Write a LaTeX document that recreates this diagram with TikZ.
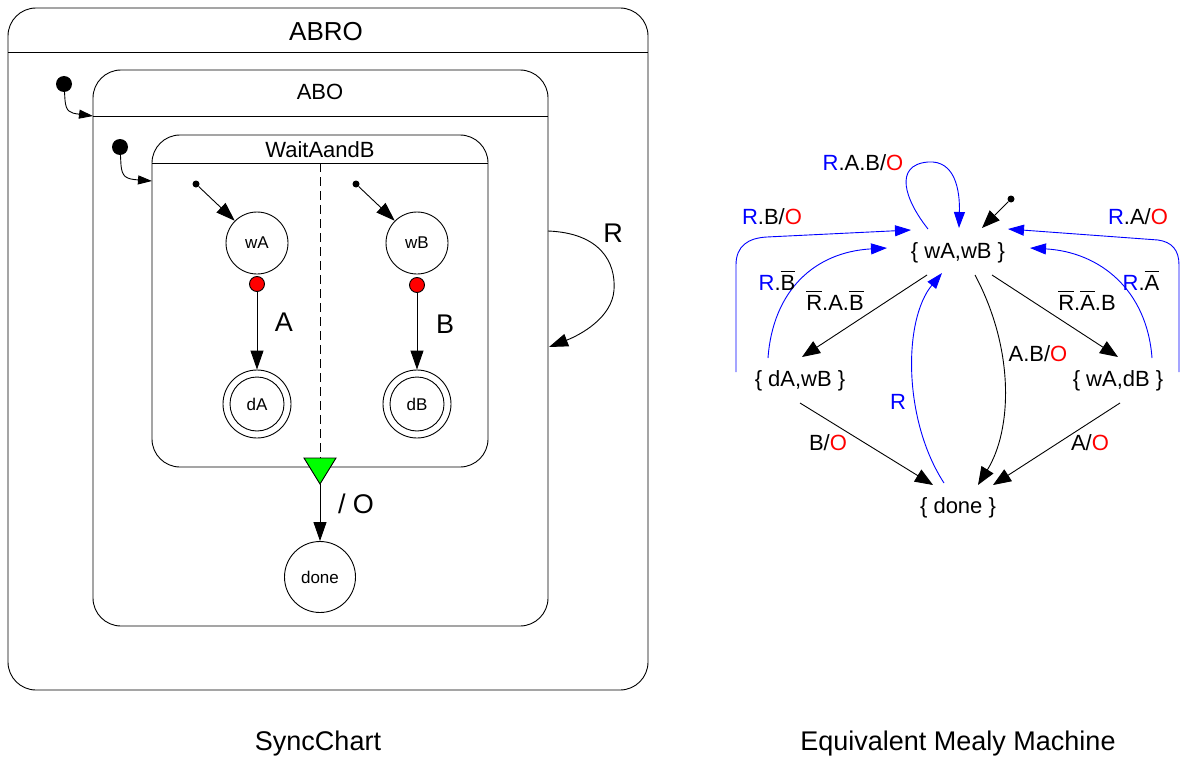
\documentclass[tikz,border=0pt]{standalone}
\usepackage{fontspec}
\setmainfont{Liberation Sans}
\usetikzlibrary{arrows.meta,calc}
\newcommand\fsz[1]{\fontsize{#1}{#1}\selectfont}
\newsavebox\ovlbox
\newcommand\ovl[1]{\sbox\ovlbox{#1}\rlap{\raisebox{\dimexpr\ht\ovlbox+3.5pt\relax}{\rule{\wd\ovlbox}{1pt}}}\usebox\ovlbox}
\newcommand\bR{\textcolor{blue}{R}}
\newcommand\rO{\textcolor{red}{O}}
\begin{document}
\begin{tikzpicture}[x=1pt,y=-1pt,
  ln/.style={line width=0.9pt},
  box/.style={ln,rounded corners=28pt},
  karrL/.style={ln,-{Triangle[length=19pt,width=13pt]}},
  karrS/.style={ln,-{Triangle[length=14pt,width=9pt]}},
  barr/.style={ln,blue,-{Triangle[length=16pt,width=11pt]}},
  marr/.style={ln,-{Triangle[length=18pt,width=14pt]}},
  lab/.style={font=\fsz{22},inner sep=1pt},
  big/.style={font=\fsz{27},inner sep=1pt},
  st/.style={circle,draw,ln,minimum size=62pt,inner sep=0pt,font=\fsz{17}},
  fst/.style={circle,draw,ln,minimum size=68pt,inner sep=0pt,font=\fsz{17}},
  initdot/.style={circle,fill=black,minimum size=16pt,inner sep=0pt},
  smalldot/.style={circle,fill=black,minimum size=7pt,inner sep=0pt},
  reddot/.style={circle,fill=red,draw,ln,minimum size=15pt,inner sep=0pt},
  mstate/.style={font=\fsz{22},inner sep=1pt}
]
\useasboundingbox (0,0) rectangle (1181,760);
% ---------------- SyncChart ----------------
\draw[box] (8,8) rectangle (648,690);
\draw[ln] (8,52) -- (648,52);
\node[font=\fsz{26}] (abro) at (326,32) {ABRO};

\draw[box] (93,70) rectangle (548,626);
\draw[ln] (93,116) -- (548,116);
\node[font=\fsz{22}] (abo) at (320,92) {ABO};

\node[initdot] (i1) at (64,84) {};
\coordinate (i1t) at (93,116);
\draw[karrS] (i1.center) -- (65,100) .. controls (66,112) and (70,113) .. (i1t);

\draw[box] (152,135) rectangle (488,467);
\draw[ln] (152,163) -- (488,163);
\node[font=\fsz{22}] (wab) at (320,150) {WaitAandB};

\node[initdot] (i2) at (120,147) {};
\coordinate (i2t) at (152,181);
\draw[karrS] (i2.center) -- (121,165) .. controls (122,177) and (126,179) .. (i2t);

\coordinate (dtop) at (320,163);
\coordinate (dbot) at (320,458);
\draw[ln,dash pattern=on 9pt off 5pt] (dtop) -- (dbot);

% region A
\node[smalldot] (sa) at (196,184) {};
\node[st] (wA) at (257,243) {wA};
\draw[karrL] (sa) -- (wA.135);
\node[reddot] (ra) at (257,284) {};
\node[fst] (dA) at (257,404) {dA};
\draw[ln] (dA.center) circle (27pt);
\draw[karrL] (ra) -- (dA.north);
\node[big] (la) at (284,322) {A};

% region B
\node[smalldot] (sb) at (356,184) {};
\node[st] (wB) at (417,243) {wB};
\draw[karrL] (sb) -- (wB.135);
\node[reddot] (rb) at (417,285) {};
\node[fst] (dB) at (417,404) {dB};
\draw[ln] (dB.center) circle (27pt);
\draw[karrL] (rb) -- (dB.north);
\node[big] (lb) at (445,324) {B};

% normal termination
\draw[ln,fill=green] (304,458) -- (336,458) -- (320,484) -- cycle;
\coordinate (tri) at (320,484);
\node[circle,draw,ln,minimum size=71pt,inner sep=0pt,font=\fsz{17}] (done) at (320,577) {done};
\draw[karrL] (tri) -- (done.north);
\node[big] (lo) at (356,504) {/ O};

% R transition
\coordinate (rs) at (548,231);
\coordinate (re) at (549,347);
\draw[karrL] (rs) .. controls (600,233) and (616,262) .. (614,290) .. controls (612,318) and (580,335) .. (re);
\node[big] (lr) at (613,233) {R};

\node[font=\fsz{27}] (cap1) at (318,744) {SyncChart};

% ---------------- Mealy machine ----------------
\node[mstate] (s0) at (958,253) {\{ wA,wB \}};
\node[mstate] (s1) at (800,381) {\{ dA,wB \}};
\node[mstate] (s2) at (1118,381) {\{ wA,dB \}};
\node[mstate] (s3) at (958,508) {\{ done \}};

% initial
\node[smalldot] (mi) at (1011,199) {};
\draw[marr] (mi) -- ([shift={(24,-25)}]s0.center);

% self loop
\draw[barr] ([shift={(-30,-24)}]s0.center) .. controls (905,200) and (893,165) .. (928,162) .. controls (955,160) and (960,190) .. ([shift={(1,-25)}]s0.center);
\node[lab] (l1) at (863,163) {\bR.A.B/\rO};

% R.B/O
\draw[barr] ([shift={(-64,-9)}]s1.center) -- (736,265) .. controls (736,246) and (748,238) .. (767,237) -- ([shift={(-47,-23)}]s0.center);
\node[lab] (l2) at (772,217) {\bR.B/\rO};

% R.A/O
\draw[barr] ([shift={(61,-9)}]s2.center) -- (1179,265) .. controls (1179,250) and (1172,242) .. (1158,240) -- ([shift={(50,-24)}]s0.center);
\node[lab] (l3) at (1138,217) {\bR.A/\rO};

% R.Bbar
\draw[barr] ([shift={(-32,-23)}]s1.center) .. controls (773,290) and (815,252) .. ([shift={(-71,-5)}]s0.center);
\node[lab] (l4) at (777,281) {\bR.\ovl{B}};

% R.Abar
\draw[barr] ([shift={(34,-23)}]s2.center) .. controls (1147,290) and (1100,252) .. ([shift={(72,-5)}]s0.center);
\node[lab] (l5) at (1141,281) {\bR.\ovl{A}};

% Rbar.A.Bbar
\draw[marr] ([shift={(-31,22)}]s0.center) -- ([shift={(2,-24)}]s1.center);
\node[lab] (l6) at (835,301) {\ovl{R}.A.\ovl{B}};

% Rbar.Abar.B
\draw[marr] ([shift={(34,22)}]s0.center) -- ([shift={(0,-24)}]s2.center);
\node[lab] (l7) at (1087,301) {\ovl{R}.\ovl{A}.B};

% A.B/O
\draw[marr] ([shift={(17,22)}]s0.center) .. controls (1015,350) and (1012,430) .. ([shift={(20,-23)}]s3.center);
\node[lab] (l8) at (1038,354) {A.B/\rO};

% R
\draw[barr] ([shift={(-14,-25)}]s3.center) .. controls (903,420) and (903,320) .. ([shift={(-16,20)}]s0.center);
\node[lab,blue] (l9) at (898,402) {R};

% B/O
\draw[marr] ([shift={(0,22)}]s1.center) -- ([shift={(-25,-23)}]s3.center);
\node[lab] (l10) at (828,443) {B/\rO};

% A/O
\draw[marr] ([shift={(2,22)}]s2.center) -- ([shift={(35,-23)}]s3.center);
\node[lab] (l11) at (1090,443) {A/\rO};

\node[font=\fsz{27}] (cap2) at (958,744) {Equivalent Mealy Machine};
\end{tikzpicture}
\end{document}
